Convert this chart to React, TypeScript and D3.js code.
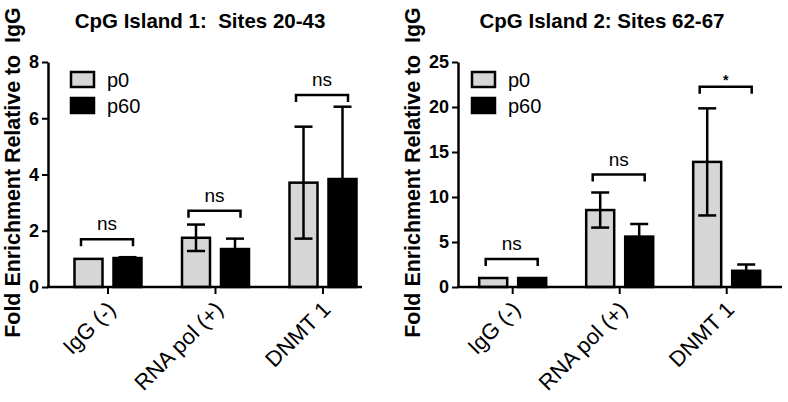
import React, { useEffect, useRef } from 'react';
import * as d3 from 'd3';

const categories = ['IgG (-)', 'RNA pol (+)', 'DNMT 1'];
const seriesNames = ['p0', 'p60'];

const island1P0 = [1.0, 1.75, 3.71];
const island1P60 = [1.03, 1.35, 3.84];
const island1P0Err = [0, 0.47, 1.99];
const island1P60Err = [0.03, 0.37, 2.57];
const island1Brackets = [1.7, 2.71, 6.83];
const island1Sig = ['ns', 'ns', 'ns'];
const island1Ticks = [0, 2, 4, 6, 8];

const island2P0 = [1.0, 8.55, 13.9];
const island2P60 = [1.0, 5.6, 1.8];
const island2P0Err = [0, 1.95, 5.95];
const island2P60Err = [0, 1.4, 0.7];
const island2Brackets = [3.1, 12.5, 22.25];
const island2Sig = ['ns', 'ns', '*'];
const island2Ticks = [0, 5, 10, 15, 20, 25];

const FONT = '"Liberation Sans", Arial, sans-serif';
const P0_FILL = '#d6d6d6';

type PanelCfg = {
    title: string;
    titleX: number;
    axisX: number;
    axisEnd: number;
    bandRange: [number, number];
    yMax: number;
    ticks: number[];
    p0: number[];
    p60: number[];
    p0Err: number[];
    p60Err: number[];
    brackets: number[];
    sig: string[];
    legendX: number;
    labelX: number;
};

const panels: PanelCfg[] = [
    {
        title: 'CpG Island 1:  Sites 20-43',
        titleX: 200,
        axisX: 48,
        axisEnd: 362,
        bandRange: [54.25, 376.75],
        yMax: 8,
        ticks: island1Ticks,
        p0: island1P0,
        p60: island1P60,
        p0Err: island1P0Err,
        p60Err: island1P60Err,
        brackets: island1Brackets,
        sig: island1Sig,
        legendX: 71,
        labelX: 20
    },
    {
        title: 'CpG Island 2: Sites 62-67',
        titleX: 602,
        axisX: 458,
        axisEnd: 782,
        bandRange: [459.2, 780.2],
        yMax: 25,
        ticks: island2Ticks,
        p0: island2P0,
        p60: island2P60,
        p0Err: island2P0Err,
        p60Err: island2P60Err,
        brackets: island2Brackets,
        sig: island2Sig,
        legendX: 472,
        labelX: 420
    }
];

const App = () => {
    const svgRef = useRef<SVGSVGElement>(null);

    useEffect(() => {
        const svg = d3.select(svgRef.current);
        svg.selectAll('*').remove();

        const yTop = 62;
        const yBottom = 287;

        panels.forEach(cfg => {
            const g = svg.append('g');

            const y = d3.scaleLinear().domain([0, cfg.yMax]).range([yBottom, yTop]);
            const x = d3.scaleBand().domain(categories).range(cfg.bandRange).padding(0);
            const bw = x.bandwidth();
            const inner = d3
                .scaleBand()
                .domain(seriesNames)
                .range([bw / 2 - 33.5, bw / 2 + 33.5])
                .paddingInner(0.282)
                .paddingOuter(0);

            // title
            g.append('text')
                .attr('x', cfg.titleX)
                .attr('y', 28)
                .attr('text-anchor', 'middle')
                .style('font-family', FONT)
                .style('font-size', '20.5px')
                .style('font-weight', 'bold')
                .style('white-space', 'pre')
                .text(cfg.title);

            // y axis label
            g.append('text')
                .attr('transform', `translate(${cfg.labelX}, 172.5) rotate(-90)`)
                .attr('text-anchor', 'middle')
                .style('font-family', FONT)
                .style('font-size', '21.4px')
                .style('font-weight', 'bold')
                .style('white-space', 'pre')
                .text('Fold Enrichment Relative to  IgG');

            // y axis
            const yAxis = g
                .append('g')
                .attr('transform', `translate(${cfg.axisX}, 0)`)
                .call(d3.axisLeft(y).tickValues(cfg.ticks).tickSize(6).tickSizeOuter(0).tickPadding(3));
            yAxis.select('.domain').attr('stroke-width', 2.5);
            yAxis.selectAll('.tick line').attr('stroke-width', 2);
            yAxis
                .selectAll('text')
                .style('font-family', FONT)
                .style('font-size', '18px')
                .style('font-weight', 'bold')
                .attr('fill', '#000');

            // bars
            const rows = categories.map((c, i) => [
                { cat: c, s: 'p0', v: cfg.p0[i], e: cfg.p0Err[i] },
                { cat: c, s: 'p60', v: cfg.p60[i], e: cfg.p60Err[i] }
            ]).flat();

            g.selectAll('.bar')
                .data(rows)
                .enter()
                .append('rect')
                .attr('x', d => (x(d.cat) as number) + (inner(d.s) as number))
                .attr('y', d => y(d.v))
                .attr('width', inner.bandwidth())
                .attr('height', d => yBottom - y(d.v))
                .attr('fill', d => (d.s === 'p0' ? P0_FILL : '#000'))
                .attr('stroke', '#000')
                .attr('stroke-width', 2.5);

            // error bars
            const errs = rows.filter(d => d.e > 0);
            const cx = (d: { cat: string; s: string }) =>
                (x(d.cat) as number) + (inner(d.s) as number) + inner.bandwidth() / 2;
            g.selectAll('.err')
                .data(errs)
                .enter()
                .append('line')
                .attr('x1', cx)
                .attr('x2', cx)
                .attr('y1', d => y(d.v - d.e))
                .attr('y2', d => y(d.v + d.e))
                .attr('stroke', '#000')
                .attr('stroke-width', 2.5);
            g.selectAll('.capTop')
                .data(errs)
                .enter()
                .append('line')
                .attr('x1', d => cx(d) - 9)
                .attr('x2', d => cx(d) + 9)
                .attr('y1', d => y(d.v + d.e))
                .attr('y2', d => y(d.v + d.e))
                .attr('stroke', '#000')
                .attr('stroke-width', 2.5);
            g.selectAll('.capBot')
                .data(errs)
                .enter()
                .append('line')
                .attr('x1', d => cx(d) - 9)
                .attr('x2', d => cx(d) + 9)
                .attr('y1', d => y(d.v - d.e))
                .attr('y2', d => y(d.v - d.e))
                .attr('stroke', '#000')
                .attr('stroke-width', 2.5);

            // x axis
            g.append('line')
                .attr('x1', cfg.axisX - 1)
                .attr('x2', cfg.axisEnd)
                .attr('y1', yBottom)
                .attr('y2', yBottom)
                .attr('stroke', '#000')
                .attr('stroke-width', 2.5);
            categories.forEach(c => {
                const xc = (x(c) as number) + bw / 2;
                g.append('line')
                    .attr('x1', xc)
                    .attr('x2', xc)
                    .attr('y1', yBottom)
                    .attr('y2', yBottom + 7)
                    .attr('stroke', '#000')
                    .attr('stroke-width', 2);
                g.append('text')
                    .attr('transform', `translate(${xc - 2}, ${yBottom + 13}) rotate(-45)`)
                    .attr('text-anchor', 'end')
                    .attr('dy', '0.7em')
                    .style('font-family', FONT)
                    .style('font-size', '22px')
                    .text(c);
            });

            // significance brackets
            categories.forEach((c, i) => {
                const xc = (x(c) as number) + bw / 2;
                const by = y(cfg.brackets[i]);
                const x1 = xc - 27;
                const x2 = xc + 25;
                g.append('path')
                    .attr('d', `M${x1},${by + 7}V${by}H${x2}V${by + 7}`)
                    .attr('fill', 'none')
                    .attr('stroke', '#000')
                    .attr('stroke-width', 2.5);
                const star = cfg.sig[i] === '*';
                g.append('text')
                    .attr('x', (x1 + x2) / 2)
                    .attr('y', star ? by - 2 : by - 9)
                    .attr('text-anchor', 'middle')
                    .style('font-family', FONT)
                    .style('font-size', star ? '14px' : '19px')
                    .style('font-weight', star ? 'bold' : 'normal')
                    .text(cfg.sig[i]);
            });

            // legend
            seriesNames.forEach((s, i) => {
                const ly = 72 + i * 26;
                g.append('rect')
                    .attr('x', cfg.legendX)
                    .attr('y', ly)
                    .attr('width', 23)
                    .attr('height', 15)
                    .attr('fill', s === 'p0' ? P0_FILL : '#000')
                    .attr('stroke', '#000')
                    .attr('stroke-width', 2.5);
                g.append('text')
                    .attr('x', cfg.legendX + 36)
                    .attr('y', ly + 15)
                    .style('font-family', FONT)
                    .style('font-size', '20px')
                    .text(s);
            });
        });
    }, []);

    return (
        <div style={{ position: 'absolute', left: 0, top: 0, background: '#fff' }}>
            <svg ref={svgRef} width={788} height={402}></svg>
        </div>
    );
};

export default App;
